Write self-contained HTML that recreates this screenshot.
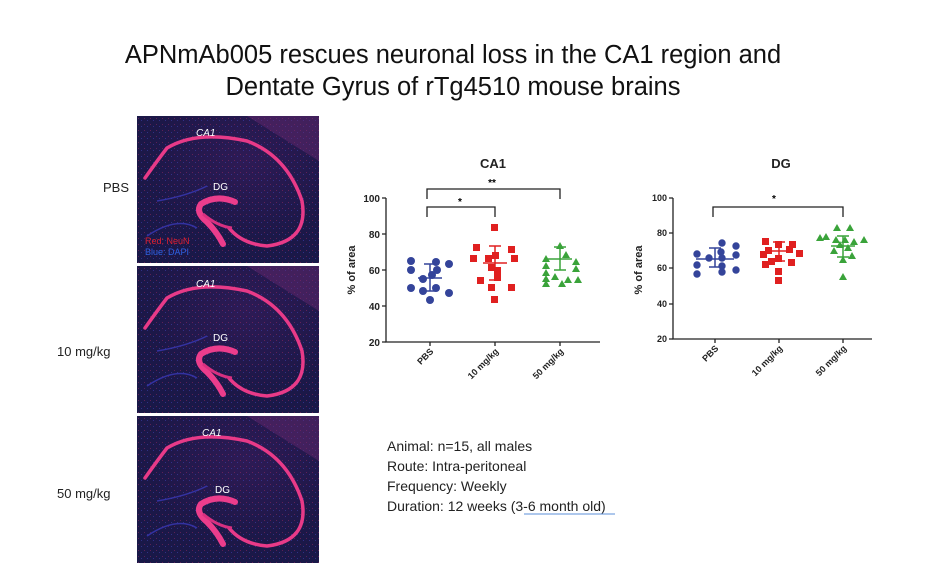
<!DOCTYPE html>
<html><head><meta charset="utf-8"><style>
html,body{margin:0;padding:0;background:#fff;}
svg{display:block;font-family:"Liberation Sans",sans-serif;}
</style></head><body>
<svg width="930" height="570" viewBox="0 0 930 570" xmlns="http://www.w3.org/2000/svg">
<defs>
<radialGradient id="bg" cx="0.6" cy="0.3" r="0.9">
<stop offset="0" stop-color="#2e1a55"/><stop offset="0.6" stop-color="#1c1848"/><stop offset="1" stop-color="#181848"/>
</radialGradient>
<pattern id="nz" width="6" height="6" patternUnits="userSpaceOnUse">
<rect x="1" y="2" width="1" height="1" fill="#c0306a" opacity="0.4"/>
<rect x="4" y="4" width="1" height="1" fill="#4040b0" opacity="0.6"/>
</pattern>
<g id="hip">
<rect width="182" height="147" fill="url(#bg)"/>
<rect width="182" height="147" fill="url(#nz)"/>
<path d="M110 0 L182 0 L182 45 Q150 25 110 0Z" fill="#6a2a70" opacity="0.45"/>
<path d="M8 62 Q20 45 30 32 Q60 14 110 25 Q150 40 165 85 Q172 125 130 130 Q105 128 92 112" fill="none" stroke="#e83a88" stroke-width="3.5" stroke-linecap="round"/>
<path d="M98 86 Q80 78 64 88 Q58 96 70 106 Q80 116 86 128" fill="none" stroke="#ec3d8c" stroke-width="6" stroke-linecap="round"/>
<path d="M66 98 Q80 110 95 112" fill="none" stroke="#d83080" stroke-width="3"/>
<path d="M10 120 Q40 100 60 112 M20 85 Q50 80 70 70" fill="none" stroke="#3a3ab8" stroke-width="1.5" opacity="0.8"/>
</g>
</defs>

<text x="453" y="63" font-size="25.5" text-anchor="middle" fill="#111">APNmAb005 rescues neuronal loss in the CA1 region and</text>
<text x="453" y="95" font-size="25.5" text-anchor="middle" fill="#111">Dentate Gyrus of rTg4510 mouse brains</text>

<use href="#hip" x="137" y="116"/>
<use href="#hip" x="137" y="266"/>
<use href="#hip" x="137" y="416"/>
<g fill="#fff" font-size="10">
<text x="196" y="136" font-style="italic">CA1</text><text x="213" y="190">DG</text>
<text x="196" y="287" font-style="italic">CA1</text><text x="213" y="341">DG</text>
<text x="202" y="436" font-style="italic">CA1</text><text x="215" y="493">DG</text>
</g>
<text x="145" y="244" font-size="9" fill="#e02030">Red: NeuN</text>
<text x="145" y="255" font-size="9" fill="#3060e0">Blue: DAPI</text>

<g font-size="13" fill="#222">
<text x="103" y="192">PBS</text>
<text x="57" y="356">10 mg/kg</text>
<text x="57" y="498">50 mg/kg</text>
</g>

<!-- CA1 chart -->
<text x="493" y="168" font-size="13" font-weight="bold" text-anchor="middle" fill="#222">CA1</text>
<g stroke="#222" stroke-width="1.3" fill="none">
<path d="M386 198 V342 H600"/>
<path d="M382 198H386M382 234H386M382 270H386M382 306H386M382 342H386"/>
<path d="M430 342V346M495 342V346M560 342V346"/>
<path d="M427 199V189H560V199"/>
<path d="M427 217V207H495V217"/>
</g>
<g font-size="10" font-weight="bold" text-anchor="end" fill="#222">
<text x="380" y="202">100</text><text x="380" y="238">80</text><text x="380" y="274">60</text><text x="380" y="310">40</text><text x="380" y="346">20</text>
</g>
<text transform="translate(355 270) rotate(-90)" font-size="11" font-weight="bold" text-anchor="middle" fill="#222">% of area</text>
<text x="492" y="186" font-size="10" font-weight="bold" text-anchor="middle">**</text>
<text x="460" y="205" font-size="10" font-weight="bold" text-anchor="middle">*</text>
<g font-size="9" font-weight="bold" fill="#222" text-anchor="end">
<text transform="translate(434 352) rotate(-45)">PBS</text>
<text transform="translate(499 352) rotate(-45)">10 mg/kg</text>
<text transform="translate(564 352) rotate(-45)">50 mg/kg</text>
</g>
<g fill="#34449a">
<circle cx="411" cy="261" r="4"/><circle cx="411" cy="270" r="4"/><circle cx="411" cy="288" r="4"/>
<circle cx="423" cy="279" r="4"/><circle cx="430" cy="300" r="4"/><circle cx="432" cy="275" r="4"/>
<circle cx="436" cy="262" r="4"/><circle cx="437" cy="270" r="4"/><circle cx="436" cy="288" r="4"/>
<circle cx="449" cy="264" r="4"/><circle cx="449" cy="293" r="4"/><circle cx="423" cy="291" r="4"/>
</g>
<path d="M430 264V291M424 264H436M424 291H436M418 278H442" stroke="#34449a" stroke-width="1.5"/>
<g fill="#e02020">
<rect x="491" y="224" width="7" height="7"/><rect x="473" y="244" width="7" height="7"/><rect x="508" y="246" width="7" height="7"/>
<rect x="470" y="255" width="7" height="7"/><rect x="485" y="255" width="7" height="7"/><rect x="492" y="252" width="7" height="7"/>
<rect x="511" y="255" width="7" height="7"/><rect x="488" y="264" width="7" height="7"/><rect x="494" y="267" width="7" height="7"/>
<rect x="477" y="277" width="7" height="7"/><rect x="494" y="274" width="7" height="7"/><rect x="508" y="284" width="7" height="7"/>
<rect x="488" y="284" width="7" height="7"/><rect x="491" y="296" width="7" height="7"/>
</g>
<path d="M495 246V280M489 246H501M489 280H501M483 263H507" stroke="#e02020" stroke-width="1.5"/>
<g fill="#3aa33a">
<path d="M546 255l4 7h-8z"/><path d="M546 262l4 7h-8z"/><path d="M546 269l4 7h-8z"/><path d="M546 275l4 7h-8z"/><path d="M546 280l4 7h-8z"/>
<path d="M560 242l4 7h-8z"/><path d="M566 251l4 7h-8z"/><path d="M576 258l4 7h-8z"/><path d="M576 265l4 7h-8z"/>
<path d="M578 276l4 7h-8z"/><path d="M562 280l4 7h-8z"/><path d="M555 273l4 7h-8z"/><path d="M568 276l4 7h-8z"/>
</g>
<path d="M560 247V270M554 247H566M554 270H566M548 259H572" stroke="#3aa33a" stroke-width="1.5"/>

<!-- DG chart -->
<text x="781" y="168" font-size="13" font-weight="bold" text-anchor="middle" fill="#222">DG</text>
<g stroke="#222" stroke-width="1.3" fill="none">
<path d="M673 198V339H872"/>
<path d="M669 198H673M669 233H673M669 268H673M669 304H673M669 339H673"/>
<path d="M715 339V343M779 339V343M843 339V343"/>
<path d="M713 217V207H843V217"/>
</g>
<g font-size="9" font-weight="bold" text-anchor="end" fill="#222">
<text x="667" y="201">100</text><text x="667" y="236">80</text><text x="667" y="271">60</text><text x="667" y="307">40</text><text x="667" y="342">20</text>
</g>
<text transform="translate(642 270) rotate(-90)" font-size="11" font-weight="bold" text-anchor="middle" fill="#222">% of area</text>
<text x="774" y="202" font-size="10" font-weight="bold" text-anchor="middle">*</text>
<g font-size="9" font-weight="bold" fill="#222" text-anchor="end">
<text transform="translate(719 349) rotate(-45)">PBS</text>
<text transform="translate(783 349) rotate(-45)">10 mg/kg</text>
<text transform="translate(847 349) rotate(-45)">50 mg/kg</text>
</g>
<g fill="#34449a">
<circle cx="697" cy="254" r="3.7"/><circle cx="697" cy="265" r="3.7"/><circle cx="697" cy="274" r="3.7"/>
<circle cx="709" cy="258" r="3.7"/><circle cx="722" cy="258" r="3.7"/><circle cx="722" cy="243" r="3.7"/>
<circle cx="721" cy="252" r="3.7"/><circle cx="722" cy="266" r="3.7"/><circle cx="722" cy="272" r="3.7"/>
<circle cx="736" cy="246" r="3.7"/><circle cx="736" cy="255" r="3.7"/><circle cx="736" cy="270" r="3.7"/>
</g>
<path d="M715 248V267M709 248H721M709 267H721M696 259H734" stroke="#34449a" stroke-width="1.5"/>
<g fill="#e02020">
<rect x="762" y="238" width="7" height="7"/><rect x="775" y="241" width="7" height="7"/><rect x="789" y="241" width="7" height="7"/>
<rect x="765" y="247" width="7" height="7"/><rect x="796" y="250" width="7" height="7"/><rect x="760" y="251" width="7" height="7"/>
<rect x="775" y="255" width="7" height="7"/><rect x="788" y="259" width="7" height="7"/><rect x="762" y="261" width="7" height="7"/>
<rect x="775" y="268" width="7" height="7"/><rect x="775" y="277" width="7" height="7"/><rect x="786" y="246" width="7" height="7"/>
<rect x="768" y="258" width="7" height="7"/>
</g>
<path d="M779 242V261M773 242H785M773 261H785M767 251H791" stroke="#e02020" stroke-width="1.5"/>
<g fill="#3aa33a">
<path d="M837 224l4 7h-8z"/><path d="M850 224l4 7h-8z"/><path d="M826 233l4 7h-8z"/><path d="M836 236l4 7h-8z"/>
<path d="M845 236l4 7h-8z"/><path d="M864 236l4 7h-8z"/><path d="M854 238l4 7h-8z"/><path d="M840 241l4 7h-8z"/>
<path d="M848 244l4 7h-8z"/><path d="M834 247l4 7h-8z"/><path d="M852 252l4 7h-8z"/><path d="M843 256l4 7h-8z"/>
<path d="M843 273l4 7h-8z"/><path d="M820 234l4 7h-8z"/>
</g>
<path d="M843 236V257M837 236H849M837 257H849M831 246H855" stroke="#3aa33a" stroke-width="1.5"/>

<g font-size="14" fill="#222">
<text x="387" y="451">Animal: n=15, all males</text>
<text x="387" y="471">Route: Intra-peritoneal</text>
<text x="387" y="491">Frequency: Weekly</text>
<text x="387" y="511">Duration: 12 weeks (3-6 month old)</text>
</g>
<path d="M524 514 H615" stroke="#5b8fd8" stroke-width="1"/>
</svg>
</body></html>
